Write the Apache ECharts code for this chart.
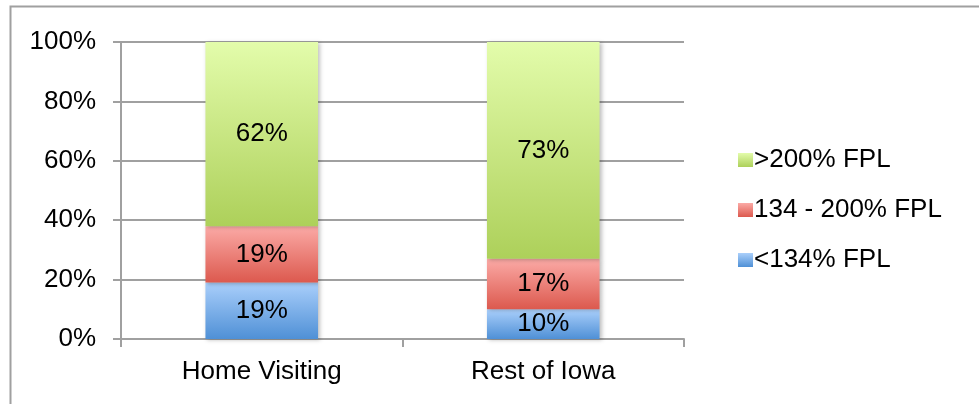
<!DOCTYPE html>
<html>
<head>
<meta charset="utf-8">
<script src="https://cdn.jsdelivr.net/npm/echarts@6/dist/echarts.min.js"></script>
<style>
html,body{margin:0;padding:0;background:#fff;}
#chart{width:979px;height:404px;}
</style>
</head>
<body>
<div id="chart"></div>
<script>
var categories = ["Home Visiting", "Rest of Iowa"];
var seriesNames = ["<134% FPL", "134 - 200% FPL", ">200% FPL"];
var below134 = [19, 10];
var mid134to200 = [19, 17];
var above200 = [62, 73];
var yTicks = [0, 20, 40, 60, 80, 100];

function grad(top, bottom) {
  return new echarts.graphic.LinearGradient(0, 0, 0, 1, [
    {offset: 0, color: top}, {offset: 1, color: bottom}
  ]);
}
var fills = [grad('#aacffb', '#4f90d6'), grad('#fbaaa6', '#dc594e'), grad('#e3fcab', '#add05a')];
var dataSets = [below134, mid134to200, above200];
var font = 'Liberation Sans, Arial, sans-serif';

var series = seriesNames.map(function (name, i) {
  return {
    name: name,
    type: 'bar',
    stack: 'total',
    barWidth: '40%',
    data: dataSets[i],
    itemStyle: {
      color: fills[i],
      shadowColor: 'rgba(0,0,0,0.25)',
      shadowBlur: 4,
      shadowOffsetX: 2,
      shadowOffsetY: 1
    },
    label: {
      show: true,
      position: 'inside',
      formatter: '{c}%',
      color: '#000',
      fontSize: 26,
      fontFamily: font
    },
    emphasis: {disabled: true}
  };
});

var chart = echarts.init(document.getElementById('chart'), null, {renderer: 'canvas'});
chart.setOption({
  animation: false,
  backgroundColor: '#fff',
  graphic: [{
    type: 'rect',
    shape: {x: 10.5, y: 6.5, width: 1000, height: 500},
    style: {fill: 'none', stroke: '#a0a0a0', lineWidth: 2},
    silent: true,
    z: -10
  }],
  grid: {left: 121, right: 295, top: 42, bottom: 65, containLabel: false},
  legend: {
    orient: 'vertical',
    left: 733,
    top: 142,
    data: [seriesNames[2], seriesNames[1], seriesNames[0]],
    itemWidth: 15,
    itemHeight: 14,
    itemGap: 24,
    textStyle: {fontSize: 26, fontFamily: font, color: '#000', lineHeight: 26, padding: [0, 0, 0, -4]},
    icon: 'rect',
    selectedMode: false
  },
  xAxis: {
    type: 'category',
    data: categories,
    axisLine: {lineStyle: {color: '#a0a0a0', width: 2}},
    axisTick: {show: true, length: 8, lineStyle: {color: '#a0a0a0', width: 2}},
    axisLabel: {fontSize: 26, fontFamily: font, color: '#000', margin: 20}
  },
  yAxis: {
    type: 'value',
    min: yTicks[0],
    max: yTicks[yTicks.length - 1],
    interval: 20,
    axisLine: {show: true, lineStyle: {color: '#a0a0a0', width: 2}},
    axisTick: {show: true, length: 8, lineStyle: {color: '#a0a0a0', width: 2}},
    splitLine: {show: true, lineStyle: {color: '#a0a0a0', width: 2}},
    axisLabel: {fontSize: 26, fontFamily: font, color: '#000', margin: 25, formatter: '{value}%'}
  },
  series: series
});
</script>
</body>
</html>
